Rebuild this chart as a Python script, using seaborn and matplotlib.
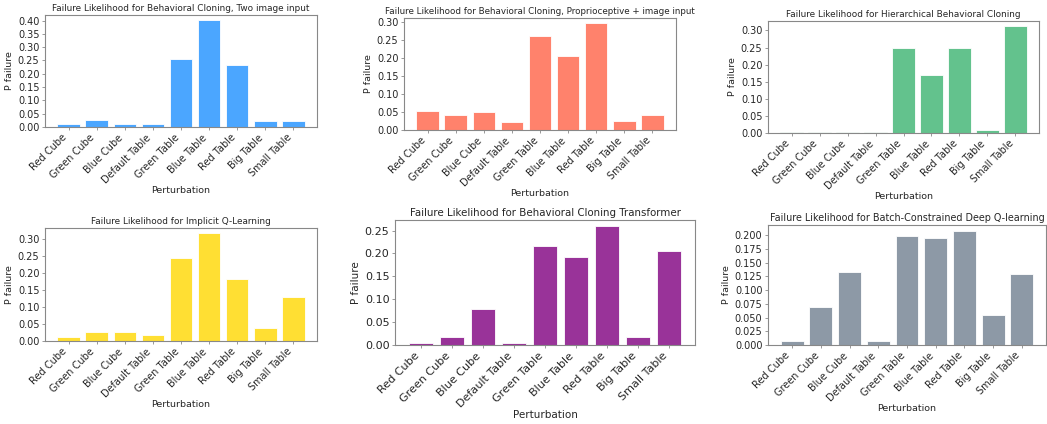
import matplotlib
matplotlib.use("Agg")
import matplotlib.pyplot as plt
import matplotlib.ticker as mticker
import seaborn as sns
import pandas as pd

sns.set_style("white")
plt.rcParams["font.family"] = ["DejaVu Sans"]

categories = ["Red Cube", "Green Cube", "Blue Cube", "Default Table", "Green Table",
              "Blue Table", "Red Table", "Big Table", "Small Table"]

bc_two_image = [0.012, 0.026, 0.011, 0.011, 0.256, 0.401, 0.234, 0.024, 0.024]
bc_proprio = [0.053, 0.042, 0.049, 0.023, 0.262, 0.206, 0.296, 0.025, 0.043]
hbc = [0.004, 0.004, 0.003, 0.003, 0.248, 0.171, 0.248, 0.008, 0.312]
iql = [0.013, 0.028, 0.026, 0.018, 0.244, 0.318, 0.182, 0.039, 0.131]
bct = [0.004, 0.017, 0.079, 0.005, 0.217, 0.193, 0.260, 0.018, 0.205]
bcq = [0.0067, 0.070, 0.133, 0.0067, 0.199, 0.195, 0.208, 0.054, 0.129]

titles = [
    "Failure Likelihood for Behavioral Cloning, Two image input",
    "Failure Likelihood for Behavioral Cloning, Proprioceptive + image input",
    "Failure Likelihood for Hierarchical Behavioral Cloning",
    "Failure Likelihood for Implicit Q-Learning",
    "Failure Likelihood for Behavioral Cloning Transformer",
    "Failure Likelihood for Batch-Constrained Deep Q-learning",
]
colors = ["#4BA6FF", "#FF826C", "#63C28D", "#FFDF33", "#993399", "#8D99A6"]
series = [bc_two_image, bc_proprio, hbc, iql, bct, bcq]
steps = [0.05, 0.05, 0.05, 0.05, 0.05, 0.025]
fmts = ["%.2f", "%.2f", "%.2f", "%.2f", "%.2f", "%.3f"]

# axes boxes in pixels: left, top, right, bottom
boxes = [(45, 15, 317, 127), (404, 18, 676, 130), (768, 21, 1039, 133),
         (45, 228, 317, 341), (395, 220, 695, 345), (768, 225, 1046, 345)]
# tick / label / title sizes per panel
sizes = [(7, 6.8, 6.4), (7, 6.8, 6.3), (7, 6.8, 6.4),
         (7, 6.8, 6.4), (8, 7.5, 7.4), (7, 6.8, 6.9)]

W, H = 1047, 424
fig = plt.figure(figsize=(W / 100, H / 100), dpi=100)

for vals, title, col, box, sz, st, fm in zip(series, titles, colors, boxes, sizes, steps, fmts):
    l, t, r, b = box
    ax = fig.add_axes([l / W, 1 - b / H, (r - l) / W, (b - t) / H])
    df = pd.DataFrame({"Perturbation": categories, "P failure": vals})
    sns.barplot(data=df, x="Perturbation", y="P failure", color=col,
                saturation=1, edgecolor="#ffffff", linewidth=0.6, ax=ax)
    ax.set_xlim(-0.84, 8.84)
    ax.set_ylim(0, max(vals) * 1.05)
    ax.yaxis.set_major_locator(mticker.MultipleLocator(st))
    ax.yaxis.set_major_formatter(mticker.FormatStrFormatter(fm))
    ts, ls, tis = sz
    ax.set_title(title, fontsize=tis, pad=3)
    ax.set_xlabel("Perturbation", fontsize=ls, labelpad=0.5)
    ax.set_ylabel("P failure", fontsize=ls, labelpad=3)
    ax.tick_params(axis="both", labelsize=ts, length=2.5, width=0.6,
                   color="#888888", pad=1.5, bottom=True, left=True)
    plt.setp(ax.get_xticklabels(), rotation=45, ha="right")
    for s in ax.spines.values():
        s.set_color("#888888")
        s.set_linewidth(0.8)

fig.savefig("out.png", dpi=100)
